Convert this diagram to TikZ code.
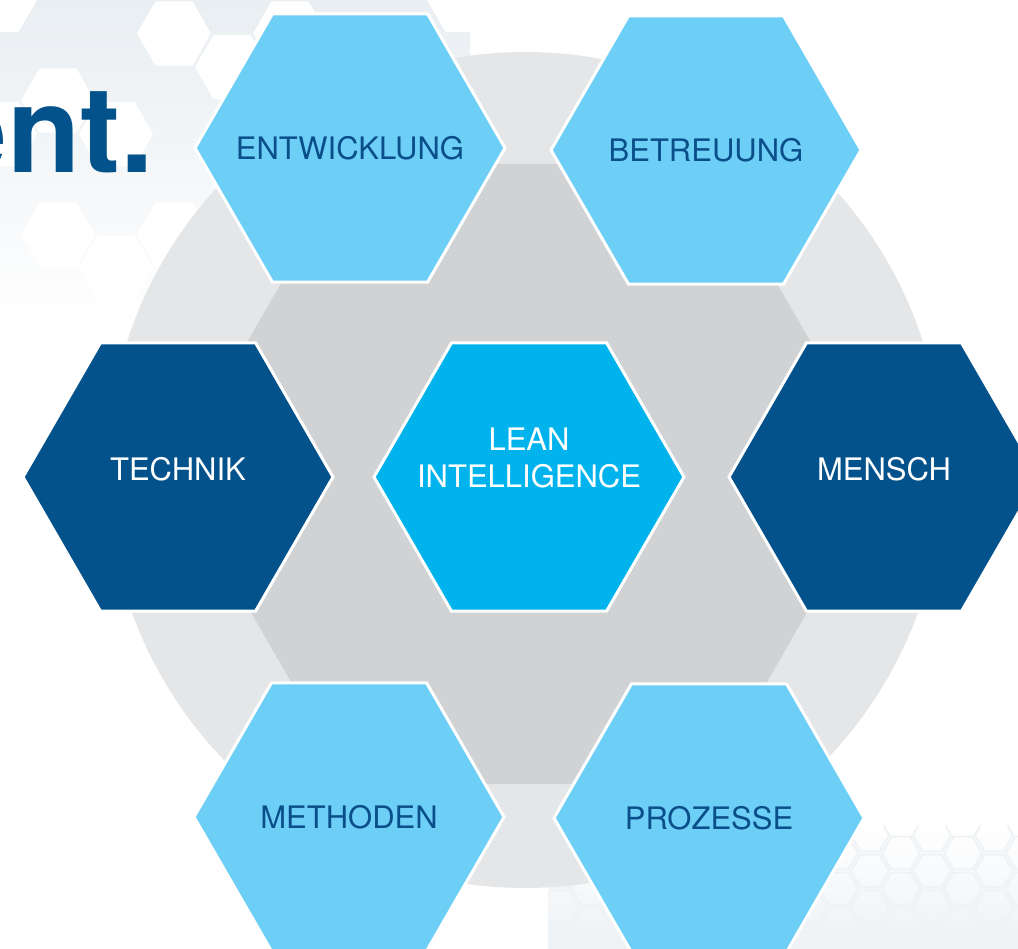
\documentclass[tikz,border=0pt]{standalone}
\usepackage{fontspec}
\setmainfont{TeX Gyre Heros}
\usetikzlibrary{shapes.geometric,positioning}

\definecolor{hexlight}{HTML}{6DCFF6}
\definecolor{hexdark}{HTML}{04528C}
\definecolor{hexcore}{HTML}{00B3EC}
\definecolor{labelblue}{HTML}{0B4F8A}
\definecolor{ringgray}{HTML}{E5E6E8}
\definecolor{basegray}{HTML}{D1D2D4}
\definecolor{patterngray}{HTML}{E9EEF2}

\begin{document}
\begin{tikzpicture}[x=1pt,y=-1pt,on grid,
    cell/.style={regular polygon,regular polygon sides=6,minimum size=#1,inner sep=0pt},
    hex/.style={cell=310pt,draw=white,line width=3pt},
    hex text/.style={font=\fontsize{31}{37}\selectfont,align=center},
    light hex/.style={hex,fill=hexlight,label={[hex text,text=labelblue]center:#1}},
    dark hex/.style={hex,fill=hexdark,label={[hex text,text=white,yshift=8pt]center:#1}},
    core hex/.style={hex,fill=hexcore,label={[hex text,text=white,yshift=19pt]center:#1}}]
  \path[use as bounding box,clip] (0,0) rectangle (1018,949);
  % background honeycomb
  \shade[top color=patterngray,bottom color=white] (0,0) rectangle (470,330);
  \foreach \i in {0,...,8}
    \foreach \j in {0,...,5} {
      \pgfmathtruncatemacro\pick{mod(\i*7+\j*3,5)}
      \ifnum\pick<2 \node[cell=74pt,fill=white] at ({\i*58},{\j*67+mod(\i,2)*33.5}) {}; \fi
    }
  \begin{scope}
    \clip (548,825) rectangle (1018,949);
    \shade[top color=white,bottom color=patterngray!80] (548,825) rectangle (1018,949);
    \foreach \i in {0,...,15}
      \foreach \j in {0,...,4}
        \node[cell=38pt,draw=patterngray!70,line width=2pt] at ({560+\i*31},{835+\j*36+mod(\i,2)*18}) {};
  \end{scope}
  \node[anchor=base east,inner sep=0pt,text=hexdark,font=\fontsize{120}{120}\selectfont\bfseries] (title) at (154,173) {ent.};
  % grey disc and base hexagon
  \node[circle,fill=ringgray,minimum size=836pt,inner sep=0pt] (ring) at (525,470) {};
  \node[cell=716pt,fill=basegray] (base) at (529,474) {};
  % hexagons
  \node[core hex={LEAN\\INTELLIGENCE}] (lean) at (529,477) {};
  \node[light hex=ENTWICKLUNG,above left=329pt and 179pt of lean] (entw) {};
  \node[light hex=BETREUUNG,above right=327pt and 177pt of lean] (betr) {};
  \node[dark hex=TECHNIK,left=351pt of lean] (tech) {};
  \node[dark hex=MENSCH,right=355pt of lean] (mensch) {};
  \node[light hex=METHODEN,below left=340pt and 180pt of lean] (meth) {};
  \node[light hex=PROZESSE,below right=341pt and 180pt of lean] (proz) {};
\end{tikzpicture}
\end{document}
